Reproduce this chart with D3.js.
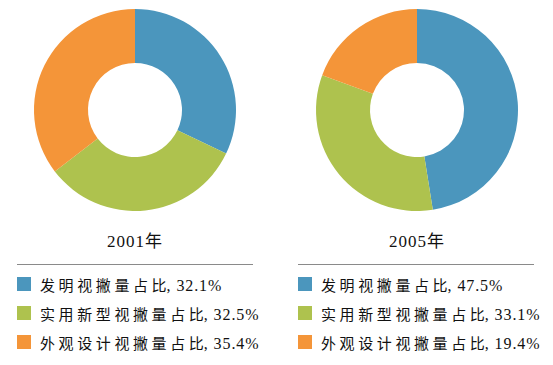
<!DOCTYPE html>
<html>
<head>
<meta charset="utf-8">
<script src="https://cdn.jsdelivr.net/npm/d3@7"></script>
<style>
  body { margin: 0; background: #fff; }
  text { font-family: "Liberation Serif", "Noto Sans CJK SC", serif; fill: #111; }
</style>
</head>
<body>
<svg id="chart" width="553" height="365"></svg>
<script>
// data
const categories = ['发明视撇量占比', '实用新型视撇量占比', '外观设计视撇量占比'];
const years = ['2001年', '2005年'];
const values2001 = [32.1, 32.5, 35.4];
const values2005 = [47.5, 33.1, 19.4];
const colors = ['#4b96bd', '#aec24e', '#f49539'];

const svg = d3.select('#chart');

const panels = [
  { year: years[0], values: values2001, cx: 135, lineX: [17, 253] },
  { year: years[1], values: values2005, cx: 417, lineX: [298, 534] },
];

const outerR = 101;
const innerR = 47;
const cy = 110;

let pie = d3.pie().sort(null).value(d => d);
let arc = d3.arc().innerRadius(innerR).outerRadius(outerR);

panels.forEach(function(p) {
  let g = svg.append('g').attr('transform', 'translate(' + p.cx + ',' + cy + ')');
  g.selectAll('path')
    .data(pie(p.values))
    .enter()
    .append('path')
    .attr('d', arc)
    .attr('fill', (d, i) => colors[i]);

  // year label
  svg.append('text')
    .attr('x', p.cx)
    .attr('y', 246.5)
    .attr('text-anchor', 'middle')
    .style('font-size', '17px')
    .style('letter-spacing', '1px')
    .text(p.year);

  // separator
  svg.append('line')
    .attr('x1', p.lineX[0])
    .attr('x2', p.lineX[1])
    .attr('y1', 264.5)
    .attr('y2', 264.5)
    .attr('stroke', '#8a8a8a')
    .attr('stroke-width', 1);

  // legend
  let rows = svg.append('g');
  categories.forEach(function(c, i) {
    let y = 277 + i * 29;
    rows.append('rect')
      .attr('x', p.lineX[0])
      .attr('y', y)
      .attr('width', 14)
      .attr('height', 14)
      .attr('fill', colors[i]);
    let t = rows.append('text')
      .attr('x', p.lineX[0] + 23)
      .attr('y', y + 13.5)
      .style('font-size', '15px');
    t.append('tspan')
      .style('letter-spacing', '3.6px')
      .text(c);
    t.append('tspan')
      .attr('dx', -3.6)
      .style('font-size', '16px')
      .style('letter-spacing', '0.9px')
      .text(', ' + p.values[i].toFixed(1) + '%');
  });
});
</script>
</body>
</html>
